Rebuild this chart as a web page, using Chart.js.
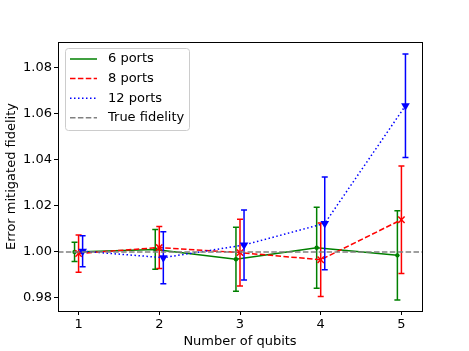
<!DOCTYPE html>
<html>
<head>
<meta charset="utf-8">
<script src="https://cdn.jsdelivr.net/npm/chart.js@4/dist/chart.umd.min.js"></script>
<style>
  html, body { margin: 0; padding: 0; background: #fff; }
  canvas { display: block; }
</style>
</head>
<body>
<canvas id="fidelityChart" width="469" height="351"></canvas>
<script>
// data
const qubits = [1, 2, 3, 4, 5];
const ports6 = [1.0000, 1.0011, 0.9968, 1.0018, 0.9985];
const ports6Err = [0.0042, 0.0086, 0.0139, 0.0176, 0.0194];
const ports8 = [0.9993, 1.0019, 0.9997, 0.9966, 1.0140];
const ports8Err = [0.0081, 0.0091, 0.0145, 0.0160, 0.0234];
const ports12 = [1.0003, 0.9975, 1.0030, 1.0124, 1.0636];
const ports12Err = [0.0067, 0.0113, 0.0152, 0.0202, 0.0225];
const trueFidelity = 1.0;
const yTicks = [0.98, 1.00, 1.02, 1.04, 1.06, 1.08];

const FONT = 'DejaVu Sans';
const X_MIN = 0.745, X_MAX = 5.255;
const Y_MIN = 0.9743, Y_MAX = 1.0913;

// little horizontal offsets so the error bars don't overlap
const toPoints = (vals, shift) => vals.map((v, i) => ({ x: qubits[i] + shift, y: v }));

// error bars, drawn right after each series so stacking matches
const errorBars = {
    id: 'errorBars',
    afterDatasetDraw(chart, args) {
        const ds = chart.data.datasets[args.index];
        if (!ds.errors) return;
        const ctx = chart.ctx;
        const xs = chart.scales.x, ys = chart.scales.y;
        ctx.save();
        ctx.strokeStyle = ds.borderColor;
        ctx.lineWidth = 1.5;
        ctx.setLineDash([]);
        ds.data.forEach((p, i) => {
            const px = xs.getPixelForValue(p.x);
            const top = ys.getPixelForValue(p.y + ds.errors[i]);
            const bot = ys.getPixelForValue(p.y - ds.errors[i]);
            ctx.beginPath();
            ctx.moveTo(px, top); ctx.lineTo(px, bot);
            ctx.moveTo(px - 3, top); ctx.lineTo(px + 3, top);
            ctx.moveTo(px - 3, bot); ctx.lineTo(px + 3, bot);
            ctx.stroke();
        });
        ctx.restore();
    }
};

// frame + legend box in the upper left
const frameAndLegend = {
    id: 'frameAndLegend',
    afterDraw(chart) {
        const ctx = chart.ctx;
        const a = chart.chartArea;
        ctx.save();
        ctx.strokeStyle = '#000';
        ctx.lineWidth = 1;
        ctx.strokeRect(Math.round(a.left) + 0.5, Math.round(a.top) + 0.5,
            Math.round(a.right - a.left), Math.round(a.bottom - a.top));

        const bx = a.left + 7, by = a.top + 6, bw = 124, bh = 82;
        ctx.fillStyle = 'rgba(255,255,255,0.8)';
        ctx.strokeStyle = '#cccccc';
        ctx.beginPath();
        ctx.roundRect(bx + 0.5, by + 0.5, bw, bh, 3);
        ctx.fill();
        ctx.stroke();

        ctx.font = '13px "' + FONT + '"';
        ctx.textBaseline = 'middle';
        chart.data.datasets.forEach((ds, i) => {
            const y = by + 11 + i * 19.6;
            ctx.strokeStyle = ds.borderColor;
            ctx.lineWidth = 1.5;
            ctx.setLineDash(ds.borderDash || []);
            ctx.beginPath();
            ctx.moveTo(bx + 5, y);
            ctx.lineTo(bx + 32, y);
            ctx.stroke();
            ctx.setLineDash([]);
            ctx.fillStyle = '#000';
            ctx.fillText(ds.label, bx + 43, y);
        });
        ctx.restore();
    }
};

new Chart(document.getElementById('fidelityChart'), {
    type: 'line',
    data: {
        datasets: [
            {
                label: '6 ports',
                data: toPoints(ports6, -0.05),
                errors: ports6Err,
                borderColor: '#008000',
                backgroundColor: '#008000',
                borderWidth: 1.5,
                pointRadius: 2.2,
                pointBorderWidth: 0,
                order: 4
            },
            {
                label: '8 ports',
                data: toPoints(ports8, 0),
                errors: ports8Err,
                borderColor: '#ff0000',
                backgroundColor: '#ff0000',
                borderWidth: 1.5,
                borderDash: [5.5, 2.4],
                pointStyle: 'crossRot',
                pointRadius: 4.5,
                pointBorderWidth: 1.5,
                order: 3
            },
            {
                label: '12 ports',
                data: toPoints(ports12, 0.05),
                errors: ports12Err,
                borderColor: '#0000ff',
                backgroundColor: '#0000ff',
                borderWidth: 1.5,
                borderDash: [1.5, 2.5],
                pointStyle: 'triangle',
                rotation: 180,
                pointRadius: 5,
                pointBorderWidth: 0,
                order: 2
            },
            {
                label: 'True fidelity',
                data: [{ x: X_MIN, y: trueFidelity }, { x: X_MAX, y: trueFidelity }],
                borderColor: '#808080',
                borderWidth: 1.5,
                borderDash: [5.5, 2.4],
                pointRadius: 0,
                order: 1
            }
        ]
    },
    options: {
        responsive: false,
        animation: false,
        layout: { padding: { left: 0, top: 42, right: 47, bottom: 0 } },
        plugins: {
            legend: { display: false },
            tooltip: { enabled: false }
        },
        scales: {
            x: {
                type: 'linear',
                min: X_MIN,
                max: X_MAX,
                afterBuildTicks: (scale) => { scale.ticks = qubits.map(v => ({ value: v })); },
                afterFit: (scale) => { scale.height = 40; },
                grid: { display: true, drawOnChartArea: false, color: '#000', tickLength: 4 },
                border: { display: true, color: '#000' },
                ticks: {
                    color: '#000',
                    padding: 2,
                    font: { family: FONT, size: 13 },
                    callback: (v) => String(v)
                },
                title: {
                    display: true,
                    text: 'Number of qubits',
                    color: '#000',
                    font: { family: FONT, size: 13 },
                    padding: { top: 0, bottom: 1.5 }
                }
            },
            y: {
                type: 'linear',
                min: Y_MIN,
                max: Y_MAX,
                afterBuildTicks: (scale) => { scale.ticks = yTicks.map(v => ({ value: v })); },
                afterFit: (scale) => { scale.width = 58; },
                grid: { display: true, drawOnChartArea: false, color: '#000', tickLength: 4 },
                border: { display: true, color: '#000' },
                ticks: {
                    color: '#000',
                    padding: 2,
                    font: { family: FONT, size: 13 },
                    callback: (v) => Number(v).toFixed(2)
                },
                title: {
                    display: true,
                    text: 'Error mitigated fidelity',
                    color: '#000',
                    font: { family: FONT, size: 13 },
                    padding: { top: 4, bottom: 0 }
                }
            }
        }
    },
    plugins: [errorBars, frameAndLegend]
});
</script>
</body>
</html>
